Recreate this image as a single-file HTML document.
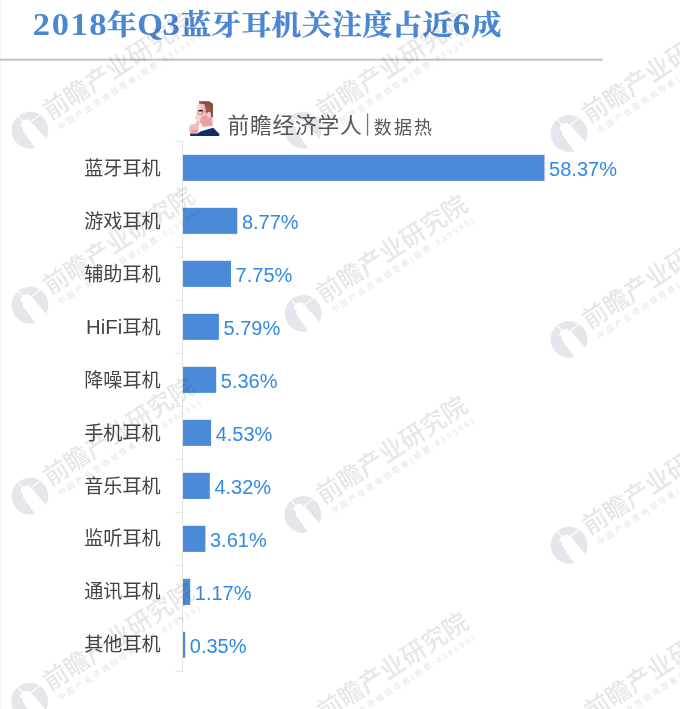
<!DOCTYPE html>
<html lang="zh-CN">
<head>
<meta charset="utf-8">
<title>2018年Q3蓝牙耳机关注度占近6成</title>
<style>
html,body{margin:0;padding:0;background:#fff;}
body{width:680px;height:709px;overflow:hidden;position:relative;}
svg{display:block;position:absolute;left:0;top:0;will-change:transform;}
.sans{font-family:"Liberation Sans", "Noto Sans CJK SC", sans-serif;}
.serif{font-family:"Liberation Serif", "Noto Serif CJK SC", serif;}
.title{font-family:"Liberation Serif", "Noto Serif CJK SC", serif;font-weight:bold;font-size:30px;letter-spacing:0.2px;fill:#4a86d2;stroke:#4a86d2;stroke-width:0.35px;}
.title .lat{font-family:"Liberation Serif", serif;font-size:34.5px;letter-spacing:1.6px;stroke:none;}
.title .latq{font-family:"Liberation Serif", serif;font-size:33px;stroke:none;}
.cat{font-family:"Liberation Sans", "Noto Sans CJK SC", sans-serif;font-size:19.1px;fill:#444;}
.cat .lt{font-size:20.3px;letter-spacing:0.1px;}
.val{font-family:"Liberation Sans", sans-serif;font-size:20px;fill:#3189e5;}
.hd1{font-family:"Liberation Sans", "Noto Sans CJK SC", sans-serif;font-size:21.8px;fill:#585858;letter-spacing:0.7px;}
.hd2{font-family:"Liberation Sans", "Noto Sans CJK SC", sans-serif;font-size:18px;fill:#585858;letter-spacing:2.1px;}
.wm1{font-family:"Liberation Sans", "Noto Sans CJK SC", sans-serif;font-weight:500;font-size:25px;fill:#e7e7e7;}
.wm2{font-family:"Liberation Sans", "Noto Sans CJK SC", sans-serif;font-size:8px;fill:#e4e4e4;letter-spacing:2.4px;}
</style>
</head>
<body>
<svg width="680" height="709" viewBox="0 0 680 709">
<defs>
<g id="wm">
  <g transform="rotate(-31)">
    <circle cx="0" cy="0" r="18.4" fill="#e5e6eb"/>
    <polygon points="-1.3,-12.2 -2.9,-11.3 -6,-8.9 -4.6,-5.5 -6.4,-3.2 -4.7,19 9.9,19 5.6,-6.0 4.5,-6.3 4.4,-9.7" fill="#fff"/>
    <line x1="-1.6" y1="-11" x2="-3.2" y2="-19" stroke="#fff" stroke-width="1.1"/>
    <line x1="4" y1="-6.4" x2="19" y2="-8.4" stroke="#fff" stroke-width="1.1"/>
  </g>
  <g transform="rotate(-33)">
    <text class="wm1" x="22.5" y="3" textLength="174" lengthAdjust="spacingAndGlyphs">前瞻产业研究院</text>
    <text class="wm2" x="25.5" y="16.5">中国产业咨询领导者(股票:839599)</text>
  </g>
</g>
</defs>
<rect x="0" y="0" width="680" height="709" fill="#fff"/>
<rect x="0" y="0" width="1" height="709" fill="#f3f3f3"/>
<text class="title" transform="translate(0,35.0) scale(1,0.94)"><tspan class="lat" x="32.8" y="0">2018</tspan><tspan x="106.7" y="0">年</tspan><tspan class="latq" x="137.2" y="0">Q</tspan><tspan class="lat" x="162.4" y="0">3</tspan><tspan x="181" y="0">蓝牙耳机关注度占近</tspan><tspan class="lat" x="452.8" y="0">6</tspan><tspan x="471.6" y="0">成</tspan></text>
<rect x="0" y="58.75" width="602.5" height="1.8" fill="#bdbdbd"/>
<g stroke="#e3e3e3" stroke-width="1" fill="none">
<line x1="182.5" y1="141" x2="182.5" y2="671.5"/>
<line x1="175.5" y1="141.3" x2="183" y2="141.3"/>
<line x1="175.5" y1="194.3" x2="183" y2="194.3"/>
<line x1="175.5" y1="247.3" x2="183" y2="247.3"/>
<line x1="175.5" y1="300.3" x2="183" y2="300.3"/>
<line x1="175.5" y1="353.3" x2="183" y2="353.3"/>
<line x1="175.5" y1="406.3" x2="183" y2="406.3"/>
<line x1="175.5" y1="459.3" x2="183" y2="459.3"/>
<line x1="175.5" y1="512.3" x2="183" y2="512.3"/>
<line x1="175.5" y1="565.3" x2="183" y2="565.3"/>
<line x1="175.5" y1="618.3" x2="183" y2="618.3"/>
<line x1="175.5" y1="671.3" x2="183" y2="671.3"/>
</g>
<rect x="183.0" y="154.8" width="361.5" height="26.1" fill="#4b8ad9"/>
<text class="cat" x="160.6" y="174.5" text-anchor="end">蓝牙耳机</text>
<text class="val" x="549.1" y="176.2">58.37%</text>
<rect x="183.0" y="207.8" width="54.3" height="26.1" fill="#4b8ad9"/>
<text class="cat" x="160.6" y="227.5" text-anchor="end">游戏耳机</text>
<text class="val" x="241.9" y="229.2">8.77%</text>
<rect x="183.0" y="260.8" width="48.0" height="26.1" fill="#4b8ad9"/>
<text class="cat" x="160.6" y="280.5" text-anchor="end">辅助耳机</text>
<text class="val" x="235.6" y="282.2">7.75%</text>
<rect x="183.0" y="313.8" width="35.9" height="26.1" fill="#4b8ad9"/>
<text class="cat" x="160.6" y="333.5" text-anchor="end"><tspan class="lt">HiFi</tspan>耳机</text>
<text class="val" x="223.5" y="335.2">5.79%</text>
<rect x="183.0" y="366.8" width="33.2" height="26.1" fill="#4b8ad9"/>
<text class="cat" x="160.6" y="386.5" text-anchor="end">降噪耳机</text>
<text class="val" x="220.8" y="388.2">5.36%</text>
<rect x="183.0" y="419.8" width="28.1" height="26.1" fill="#4b8ad9"/>
<text class="cat" x="160.6" y="439.5" text-anchor="end">手机耳机</text>
<text class="val" x="215.7" y="441.2">4.53%</text>
<rect x="183.0" y="472.8" width="26.8" height="26.1" fill="#4b8ad9"/>
<text class="cat" x="160.6" y="492.5" text-anchor="end">音乐耳机</text>
<text class="val" x="214.4" y="494.2">4.32%</text>
<rect x="183.0" y="525.8" width="22.4" height="26.1" fill="#4b8ad9"/>
<text class="cat" x="160.6" y="545.4" text-anchor="end">监听耳机</text>
<text class="val" x="210.0" y="547.1">3.61%</text>
<rect x="183.0" y="578.8" width="7.2" height="26.1" fill="#4b8ad9"/>
<text class="cat" x="160.6" y="598.4" text-anchor="end">通讯耳机</text>
<text class="val" x="194.8" y="600.1">1.17%</text>
<rect x="183.0" y="631.8" width="2.2" height="26.1" fill="#4b8ad9"/>
<text class="cat" x="160.6" y="651.4" text-anchor="end">其他耳机</text>
<text class="val" x="189.8" y="653.1">0.35%</text>
<g id="avatar" transform="translate(186,98) scale(0.05784)">
  <polygon points="225,92 320,110 335,180 350,270 370,245 400,235 430,260 435,330 458,330 462,485 292,502 265,447 215,427 185,397 192,372 153,350 185,290 190,200 205,120" fill="#f5bcbd"/>
  <polygon points="205,120 262,108 268,300 240,420 215,427 185,397 192,372 153,350 185,290 190,200" fill="#f9d3d1"/>
  <polygon points="262,330 352,300 372,340 440,335 458,485 296,500 272,440 238,425" fill="#ea9ea2"/>
  <polygon points="372,248 402,238 430,262 434,328 400,335 378,310" fill="#f7c9c8"/>
  <polygon points="225,55 400,58 466,100 466,332 436,332 430,260 400,235 370,245 350,272 335,180 320,110 225,95" fill="#8a4a3f"/>
  <polygon points="345,120 420,110 440,240 400,235 370,245 352,262" fill="#9a5548"/>
  <circle cx="245" cy="252" r="36" fill="#fbe3e0" fill-opacity="0.45" stroke="#7c4038" stroke-width="9"/>
  <ellipse cx="254" cy="218" rx="42" ry="16" fill="#241c40"/>
  <line x1="282" y1="240" x2="352" y2="234" stroke="#8a4a3f" stroke-width="7"/>
  <polygon points="172,408 200,398 240,452 215,470 222,560 200,600 80,600 58,560 60,490 90,458 170,452" fill="#f6b7ba"/>
  <polygon points="70,560 215,545 200,602 82,602" fill="#ec9aa2"/>
  <polygon points="240,462 288,502 466,480 472,516 252,582 196,614" fill="#f3f5fb"/>
  <polygon points="68,615 200,615 252,580 470,514 582,625 570,656 74,656" fill="#102c69"/>
</g>
<text class="hd1" x="227.6" y="133.3">前瞻经济学人</text>
<rect x="366.9" y="113.6" width="1.3" height="22.3" fill="#777"/>
<text class="hd2" x="373.8" y="134.1">数据热</text>
<g style="mix-blend-mode:multiply">
<use href="#wm" x="30" y="130.2"/>
<use href="#wm" x="303" y="130"/>
<use href="#wm" x="569.1" y="133.5"/>
<use href="#wm" x="30" y="305.1"/>
<use href="#wm" x="303.2" y="313.4"/>
<use href="#wm" x="569.1" y="339.3"/>
<use href="#wm" x="30" y="496.2"/>
<use href="#wm" x="302.9" y="514.4"/>
<use href="#wm" x="569.1" y="545.2"/>
<use href="#wm" x="29.7" y="701.2"/>
<use href="#wm" x="304" y="731"/>
<use href="#wm" x="571.5" y="730.5"/>
</g>
</svg>
</body>
</html>
